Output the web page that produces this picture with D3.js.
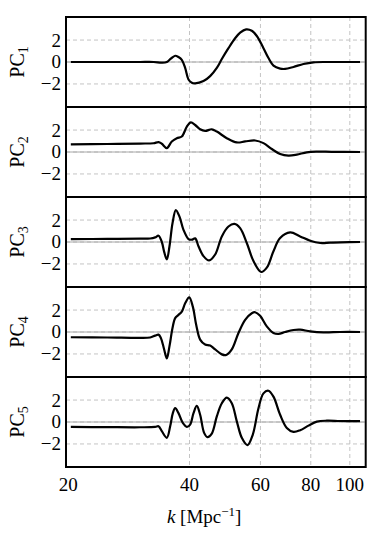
<!DOCTYPE html>
<html lang="en">
<head>
    <meta charset="UTF-8">
    <title>PC modes</title>
    <script src="https://d3js.org/d3.v7.min.js"></script>
    <style>
        body { margin: 0; background: #fff; }
        text { font-family: "Liberation Serif", "DejaVu Serif", serif; fill: #000; }
    </style>
</head>
<body>
<script>
    var margin = {top: 17, right: 16.3, bottom: 68, left: 66},
        width = 382 - margin.left - margin.right,
        panelH = 90;

    var xTicks = [20, 40, 60, 80, 100];
    var yTicks = [2, 0, -2];
    var labels = ["1", "2", "3", "4", "5"];

    // [k, value]
    var pc1 = [[20.3,0],[24,0],[28,0],[30.2,0],[32.6,0],[34.15,-0.06],[35.14,0.0],[35.96,0.3],[36.86,0.57],[37.56,0.45],
        [38.28,0.2],[39.02,-0.54],[39.77,-1.59],[40.54,-1.89],[41.32,-1.95],[43.33,-1.74],[45.01,-1.29],[46.76,-0.54],
        [48.12,0.27],[49.98,1.26],[51.92,2.16],[53.43,2.67],[55.29,2.97],[57.11,2.85],[58.77,2.37],[61.05,1.26],
        [62.82,0.36],[64.64,-0.33],[67.15,-0.6],[69.1,-0.63],[72.47,-0.45],[76.73,-0.18],[81.24,-0.03],[87.68,0],[95,0],[106,0]];

    var pc2 = [[20.3,0.7],[25,0.73],[30.18,0.77],[32.56,0.8],[33.51,0.9],[34.15,0.75],[35.14,0.36],[36.16,0.96],
        [37.21,1.26],[38.28,1.41],[39.4,2.31],[40.3,2.7],[41.32,2.46],[42.51,2.07],[43.74,1.92],[45.44,2.07],
        [46.76,1.86],[49.51,1.26],[52.42,0.87],[54.98,0.96],[58.21,1.05],[61.05,0.81],[64.03,0.27],[67.15,-0.18],
        [70.43,-0.33],[73.86,-0.24],[78.21,-0.03],[82.81,0.03],[90,0.02],[106,0]];

    var pc3 = [[20.3,0.27],[25,0.28],[30.18,0.3],[31.95,0.32],[32.87,0.42],[33.51,0.57],[34.15,0.0],[34.61,-0.9],
        [35.14,-1.59],[35.68,-0.39],[36.3,1.71],[37.0,2.91],[37.78,2.31],[38.65,1.11],[39.77,0.27],[40.54,0.21],
        [41.32,0.33],[42.11,-0.39],[43.33,-1.29],[44.75,-1.68],[46.32,-1.14],[48.12,0.51],[49.98,1.41],[51.72,1.65],
        [53.43,1.26],[55.5,-0.09],[57.66,-1.74],[60.24,-2.73],[62.22,-2.34],[64.64,-0.84],[67.15,0.36],[71.1,0.87],
        [75.28,0.51],[79.71,0.12],[84.4,-0.09],[89.36,-0.06],[95,-0.03],[106,0]];

    var pc4 = [[20.3,-0.48],[25,-0.5],[30.18,-0.54],[31.95,-0.5],[32.87,-0.33],[33.51,-0.24],[33.96,-0.54],[34.61,-1.59],
        [35.14,-2.4],[35.68,-1.29],[36.3,0.36],[36.86,1.26],[37.56,1.56],[38.28,1.86],[39.02,2.61],[39.93,3.15],
        [40.77,2.31],[41.56,0.66],[42.51,-0.69],[43.74,-1.14],[45.01,-1.23],[46.32,-1.59],[48.12,-2.04],[49.33,-2.1],
        [50.94,-1.59],[52.92,-0.09],[54.98,1.11],[57.11,1.71],[58.21,1.8],[59.9,1.47],[62.22,0.51],[64.64,-0.09],
        [66.51,-0.18],[69.1,0],[72.47,0.18],[75.28,0.21],[79.71,0.06],[86.02,-0.03],[94.62,0],[106,0]];

    var pc5 = [[20.3,-0.45],[25,-0.47],[30.18,-0.48],[32.87,-0.45],[33.51,-0.39],[34.15,-0.84],[35.14,-1.44],
        [35.82,-0.39],[36.37,0.81],[36.86,1.26],[37.56,0.81],[38.5,-0.09],[39.4,-0.45],[40.15,-0.24],[40.93,0.81],
        [41.71,1.47],[42.51,0.66],[43.49,-0.99],[44.33,-1.38],[45.44,-1.05],[46.76,0.51],[48.12,1.71],[49.51,2.22],
        [50.94,1.71],[52.42,0.06],[53.94,-1.44],[55.71,-2.1],[57.44,-1.14],[59.33,1.26],[61.05,2.61],[62.82,2.85],
        [64.64,2.31],[67.15,0.66],[69.76,-0.54],[72.47,-0.9],[75.28,-0.75],[78.96,-0.33],[82.81,0.03],[87.68,0.12],
        [94.62,0.09],[106,0.08]];

    var series = [pc1, pc2, pc3, pc4, pc5];

    var svg = d3.select("body").append("svg")
        .attr("width", 382)
        .attr("height", 535)
        .append("g")
        .attr("transform", "translate(" + margin.left + "," + margin.top + ")");

    var x = d3.scaleLog().domain([19.75, 109.5]).range([0, width]);

    series.forEach(function(data, i) {
        var g = svg.append("g").attr("transform", "translate(0," + (i * panelH) + ")");
        var y = d3.scaleLinear().domain([-4.1, 4.1]).range([panelH, 0]);

        // grid
        g.selectAll(".vgrid").data(xTicks.slice(1)).enter().append("line")
            .attr("x1", function(d) { return x(d); }).attr("x2", function(d) { return x(d); })
            .attr("y1", 0).attr("y2", panelH)
            .style("stroke", "#c4c4c4").style("stroke-width", 1).style("stroke-dasharray", "4,3");
        g.selectAll(".hgrid").data(yTicks).enter().append("line")
            .attr("x1", 0).attr("x2", width)
            .attr("y1", function(d) { return y(d); }).attr("y2", function(d) { return y(d); })
            .style("stroke", "#c4c4c4").style("stroke-width", 1).style("stroke-dasharray", "4,3");
        g.append("line")
            .attr("x1", 0).attr("x2", width).attr("y1", y(0)).attr("y2", y(0))
            .style("stroke", "#a8a8a8").style("stroke-width", 1);

        // y tick labels
        g.selectAll(".ylab").data(yTicks).enter().append("text")
            .attr("x", -5).attr("y", function(d) { return y(d); })
            .attr("dy", "0.34em")
            .style("text-anchor", "end").style("font-size", "19px")
            .text(function(d) { return d < 0 ? "\u2212" + Math.abs(d) : d; });

        // curve
        var line = d3.line()
            .x(function(d) { return x(d[0]); })
            .y(function(d) { return y(d[1]); })
            .curve(d3.curveCatmullRom.alpha(0.5));
        g.append("path").datum(data)
            .attr("d", line)
            .style("fill", "none").style("stroke", "#000").style("stroke-width", 2.2)
            .style("stroke-linejoin", "round");

        // frame
        g.append("rect")
            .attr("x", 0).attr("y", 0).attr("width", width).attr("height", panelH)
            .style("fill", "none").style("stroke", "#000").style("stroke-width", 2);

        // y label
        var lab = g.append("text")
            .attr("transform", "translate(-42," + (panelH / 2) + ") rotate(-90)")
            .style("text-anchor", "middle").style("font-size", "20px");
        lab.append("tspan").text("PC");
        lab.append("tspan").attr("dy", 4).style("font-size", "14px").text(labels[i]);
    });

    // x tick labels
    var bottom = 5 * panelH;
    svg.selectAll(".xlab").data(xTicks).enter().append("text")
        .attr("x", function(d) { return x(d); })
        .attr("y", bottom + 24)
        .style("text-anchor", "middle").style("font-size", "19px")
        .text(function(d) { return d; });

    var xl = svg.append("text")
        .attr("x", x(43.5)).attr("y", bottom + 56)
        .style("text-anchor", "middle").style("font-size", "19px");
    xl.append("tspan").style("font-style", "italic").text("k");
    xl.append("tspan").text(" [Mpc");
    xl.append("tspan").attr("dy", -7).style("font-size", "13px").text("\u22121");
    xl.append("tspan").attr("dy", 7).text("]");
</script>
</body>
</html>
